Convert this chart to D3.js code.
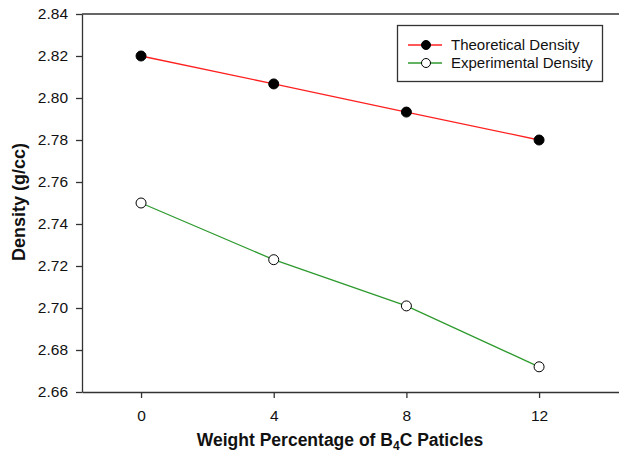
<!DOCTYPE html>
<html>
<head>
<meta charset="utf-8">
<script src="https://cdn.jsdelivr.net/npm/d3@7"></script>
<style>
  body { margin: 0; background: #fff; }
  svg { display: block; font-family: Arial, "Liberation Sans", sans-serif; }
</style>
</head>
<body>
<svg id="chart" width="619" height="456"></svg>
<script>
const weights = [0, 4, 8, 12];
const theoretical = [2.82, 2.8067, 2.7933, 2.78];
const experimental = [2.75, 2.723, 2.701, 2.672];
const xTicks = [0, 4, 8, 12];
const yTicks = [2.66, 2.68, 2.70, 2.72, 2.74, 2.76, 2.78, 2.80, 2.82, 2.84];

const svg = d3.select("#chart");
const plot = { left: 82, right: 622, top: 14, bottom: 392 };

const x = d3.scaleLinear().domain([-1.78, 14.5]).range([plot.left, plot.right]);
const y = d3.scaleLinear().domain([2.66, 2.84]).range([plot.bottom, plot.top]);

const axisColor = "#333";

// frame top line
svg.append("line")
  .attr("x1", plot.left).attr("x2", plot.right)
  .attr("y1", plot.top).attr("y2", plot.top)
  .attr("stroke", axisColor).attr("stroke-width", 1.3);

const xAxis = svg.append("g")
  .attr("transform", `translate(0,${plot.bottom})`)
  .call(d3.axisBottom(x).tickValues(xTicks).tickSize(6).tickPadding(12).tickSizeOuter(0));
const yAxis = svg.append("g")
  .attr("transform", `translate(${plot.left},0)`)
  .call(d3.axisLeft(y).tickValues(yTicks).tickFormat(d3.format(".2f")).tickSize(6).tickPadding(8).tickSizeOuter(0));

[xAxis, yAxis].forEach(a => {
  a.select(".domain").attr("stroke", axisColor).attr("stroke-width", 1.3);
  a.selectAll(".tick line").attr("stroke", axisColor).attr("stroke-width", 1.3);
  a.selectAll(".tick text").attr("fill", "#111").style("font-size", "15.5px").style("font-family", "Arial, 'Liberation Sans', sans-serif");
});

// axis titles
const xt = svg.append("text")
  .attr("x", x(6)).attr("y", 446)
  .attr("text-anchor", "middle")
  .style("font-size", "17.5px").style("font-weight", "bold").attr("fill", "#111");
xt.append("tspan").text("Weight Percentage of B");
xt.append("tspan").attr("dy", 4).style("font-size", "12px").text("4");
xt.append("tspan").attr("dy", -4).text("C Paticles");

svg.append("text")
  .attr("transform", `translate(25,202) rotate(-90)`)
  .attr("text-anchor", "middle")
  .style("font-size", "18px").style("font-weight", "bold").attr("fill", "#111")
  .text("Density (g/cc)");

const series = [
  { name: "Theoretical Density", values: theoretical, color: "#ff2020", fill: "#000" },
  { name: "Experimental Density", values: experimental, color: "#2e9a2e", fill: "#fff" }
];

const line = d3.line().x((d, i) => x(weights[i])).y(d => y(d));

series.forEach(s => {
  svg.append("path")
    .datum(s.values)
    .attr("d", line)
    .attr("fill", "none")
    .attr("stroke", s.color)
    .attr("stroke-width", 1.3);
  svg.selectAll(null)
    .data(s.values)
    .enter().append("circle")
    .attr("cx", (d, i) => x(weights[i]))
    .attr("cy", d => y(d))
    .attr("r", 5)
    .attr("fill", s.fill)
    .attr("stroke", "#000")
    .attr("stroke-width", 1);
});

// legend
const legend = svg.append("g");
legend.append("rect")
  .attr("x", 397.5).attr("y", 25.5).attr("width", 205).attr("height", 56)
  .attr("fill", "#fff").attr("stroke", axisColor).attr("stroke-width", 1.3);

series.forEach((s, i) => {
  const ly = 45 + i * 18;
  legend.append("line")
    .attr("x1", 408).attr("x2", 442).attr("y1", ly).attr("y2", ly)
    .attr("stroke", s.color).attr("stroke-width", 1.3);
  legend.append("circle")
    .attr("cx", 426).attr("cy", ly).attr("r", 4.5)
    .attr("fill", s.fill).attr("stroke", "#000").attr("stroke-width", 1);
  legend.append("text")
    .attr("x", 451).attr("y", ly + 5)
    .style("font-size", "15px").attr("fill", "#111")
    .text(s.name);
});
</script>
</body>
</html>
